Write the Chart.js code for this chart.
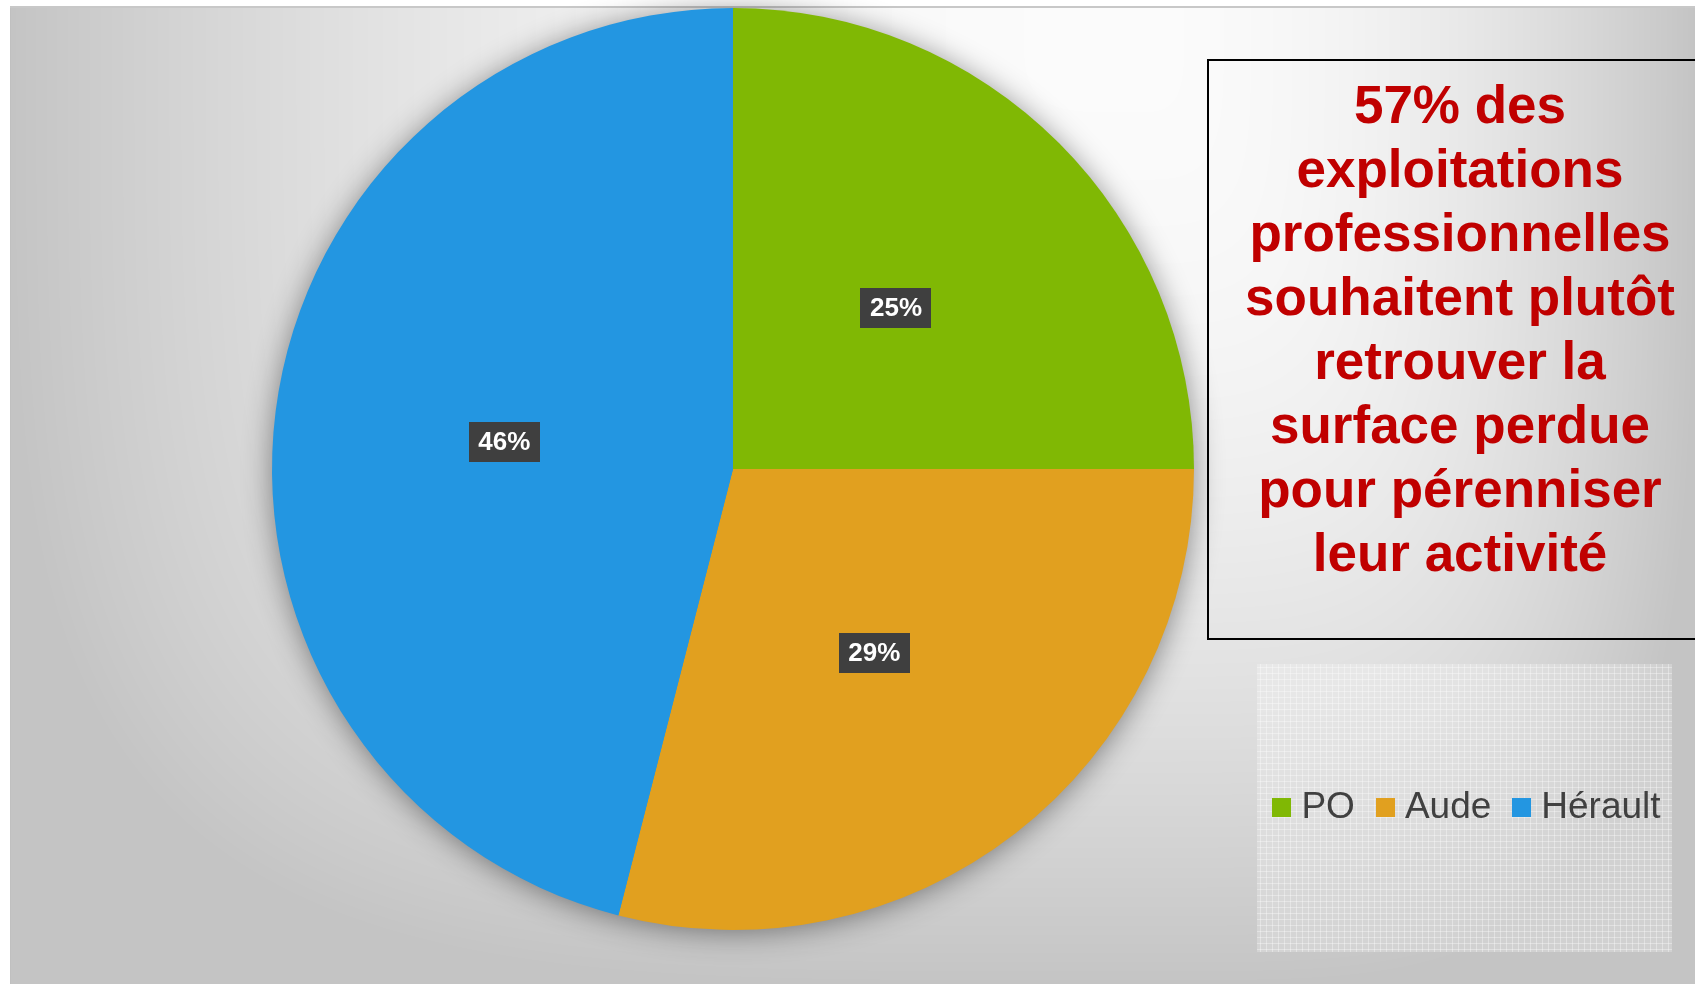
<!DOCTYPE html>
<html lang="fr">
<head>
<meta charset="utf-8">
<title>Exploitations professionnelles</title>
<script src="https://cdn.jsdelivr.net/npm/chart.js@4/dist/chart.umd.min.js"></script>
<style>
  html, body { margin: 0; padding: 0; background: #fff; overflow: hidden; }
  #wrap { position: relative; width: 1695px; height: 984px; }
  #note {
    position: absolute; left: 1207px; top: 59px; width: 502px; height: 565px;
    border: 2px solid #000; padding-top: 12px;
    font: bold 53px "Liberation Sans", Arial, sans-serif; line-height: 64px;
    color: #C00000; text-align: center; white-space: nowrap;
  }
</style>
</head>
<body>
<div id="wrap">
  <canvas id="pie" width="1695" height="984"></canvas>
  <div id="note"></div>
</div>
<script>
// données
const labels = ['PO', 'Aude', 'Hérault'];
const values = [25, 29, 46];
const colors = ['#80B804', '#E1A01F', '#2396E1'];
const noteLines = [
  '57% des',
  'exploitations',
  'professionnelles',
  'souhaitent plutôt',
  'retrouver la',
  'surface perdue',
  'pour pérenniser',
  'leur activité'
];

document.getElementById('note').innerHTML = noteLines.join('<br>');

const FONT = '"Liberation Sans", Arial, sans-serif';

// --- fond gris dégradé (clair en haut au centre-droit, plus sombre vers les bords) ---
function makeBackground(w, h) {
  const c = document.createElement('canvas');
  c.width = w; c.height = h;
  const g = c.getContext('2d');
  const img = g.createImageData(w, h);
  const cx = 1130, cy = 20;
  for (let y = 0; y < h; y++) {
    for (let x = 0; x < w; x++) {
      const i = (y * w + x) * 4;
      let v;
      if (x < 10 || y < 6) v = 255;
      else if (y < 8) v = 200;
      else if (x < 11) v = 192;
      else {
        const sx = x < cx ? cx - 10 : w - cx;
        const dx = Math.abs(x - cx) / sx, dy = Math.abs(y - cy) / (h - cy);
        const t = Math.min(1, Math.pow(Math.pow(dx, 4) + Math.pow(dy, 4), 0.25));
        v = 251 - 55 * t * t;
      }
      img.data[i] = img.data[i + 1] = img.data[i + 2] = v;
      img.data[i + 3] = 255;
    }
  }
  g.putImageData(img, 0, 0);
  return c;
}
const bg = makeBackground(1695, 984);

const backgroundPlugin = {
  id: 'bg',
  beforeDraw(chart) {
    chart.ctx.drawImage(bg, 0, 0);
  },
  beforeDatasetsDraw(chart) {
    // ombre douce autour du camembert
    const arc = chart.getDatasetMeta(0).data[0];
    const ctx = chart.ctx;
    ctx.save();
    ctx.shadowColor = 'rgba(0,0,0,0.45)';
    ctx.shadowBlur = 30;
    ctx.shadowOffsetY = 3;
    ctx.beginPath();
    ctx.arc(arc.x, arc.y, arc.outerRadius - 1, 0, Math.PI * 2);
    ctx.fillStyle = colors[2];
    ctx.fill();
    ctx.restore();
  }
};

// étiquettes de pourcentage sur fond sombre
const labelPlugin = {
  id: 'pctLabels',
  afterDatasetsDraw(chart) {
    const ctx = chart.ctx;
    const total = values.reduce((a, b) => a + b, 0);
    ctx.save();
    ctx.font = 'bold 26px ' + FONT;
    ctx.textAlign = 'center';
    ctx.textBaseline = 'middle';
    chart.getDatasetMeta(0).data.forEach((arc, i) => {
      const p = arc.getCenterPoint();
      const txt = Math.round(values[i] / total * 100) + '%';
      const bw = 71, bh = 40;
      ctx.fillStyle = '#3F3F3F';
      ctx.fillRect(Math.round(p.x - bw / 2), Math.round(p.y - bh / 2) + 2, bw, bh);
      ctx.fillStyle = '#FFFFFF';
      ctx.fillText(txt, p.x, p.y + 3);
    });
    ctx.restore();
  }
};

// légende dans un cadre texturé, en bas à droite
const legendPlugin = {
  id: 'boxLegend',
  afterDraw(chart) {
    const ctx = chart.ctx;
    const bx = 1257, by = 664, bw = 415, bh = 288;
    ctx.save();
    ctx.fillStyle = 'rgba(255,255,255,0.22)';
    ctx.fillRect(bx, by, bw, bh);
    ctx.strokeStyle = 'rgba(255,255,255,0.35)';
    ctx.lineWidth = 1;
    ctx.beginPath();
    for (let x = bx + 3; x < bx + bw; x += 6) { ctx.moveTo(x + 0.5, by); ctx.lineTo(x + 0.5, by + bh); }
    for (let y = by + 3; y < by + bh; y += 6) { ctx.moveTo(bx, y + 0.5); ctx.lineTo(bx + bw, y + 0.5); }
    ctx.stroke();

    ctx.font = '37px ' + FONT;
    ctx.textBaseline = 'middle';
    const sq = 19, gap = 10, sep = 21;
    const widths = labels.map(l => ctx.measureText(l).width);
    const full = widths.reduce((a, w) => a + sq + gap + w, 0) + sep * (labels.length - 1);
    let x = bx + (bw - full) / 2 + 2;
    const cy = 807;
    labels.forEach((l, i) => {
      ctx.fillStyle = colors[i];
      ctx.fillRect(Math.round(x), cy - 9, sq, sq);
      x += sq + gap;
      ctx.fillStyle = '#404040';
      ctx.fillText(l, x, cy + 1);
      x += widths[i] + sep;
    });
    ctx.restore();
  }
};

new Chart(document.getElementById('pie'), {
  type: 'pie',
  data: {
    labels: labels,
    datasets: [{
      data: values,
      backgroundColor: colors,
      borderWidth: 0,
      hoverBorderWidth: 0,
      hoverOffset: 0,
      radius: 461
    }]
  },
  options: {
    responsive: false,
    devicePixelRatio: 1,
    animation: false,
    layout: { padding: { left: 272, right: 501, top: 8, bottom: 54 } },
    plugins: {
      legend: { display: false },
      tooltip: { enabled: false }
    }
  },
  plugins: [backgroundPlugin, labelPlugin, legendPlugin]
});
</script>
</body>
</html>
